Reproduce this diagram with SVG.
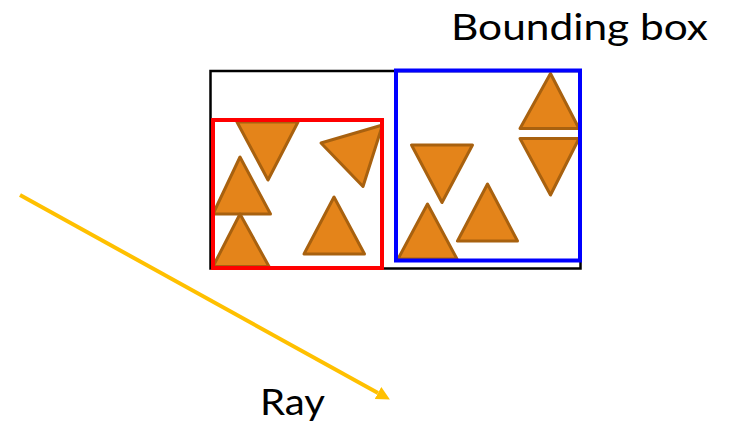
<svg xmlns="http://www.w3.org/2000/svg" width="729" height="424" viewBox="0 0 729 424">
<style>
.tri{fill:#E4841A;stroke:#A8610F;stroke-width:3;stroke-linejoin:round}
.box{fill:none}
.lbl{font-family:Lato,"Open Sans","Liberation Sans",sans-serif;font-size:37px;fill:#000}
</style>
<defs>
<marker id="ah" viewBox="0 0 10 10" refX="0" refY="5" markerWidth="3.4" markerHeight="3.6" orient="auto" markerUnits="strokeWidth">
<path d="M0,0 L10,5 L0,10 z" fill="#FFC000"/>
</marker>
</defs>
<g id="bounding-box">
<rect class="box" x="210.5" y="71" width="370" height="197.5" stroke="#000" stroke-width="2.5"/>
</g>
<g id="triangles">
<polygon class="tri" points="237,122 298,122 268,180"/>
<polygon class="tri" points="321,143 382.5,125 363,186.5"/>
<polygon class="tri" points="240,157 213,214 270.5,214"/>
<polygon class="tri" points="240,214 213,266.5 269,266.5"/>
<polygon class="tri" points="334,197 304,254 364.5,254"/>
<polygon class="tri" points="550.5,73.5 520,128.5 579,128.5"/>
<polygon class="tri" points="520,138.5 579,138.5 550.5,195"/>
<polygon class="tri" points="411.5,145 472.5,145 442,202.5"/>
<polygon class="tri" points="487.5,184 457.5,241 517.5,241"/>
<polygon class="tri" points="427.5,204 398,259 457,259"/>
</g>
<g id="red-box">
<rect class="box" x="213" y="120" width="169" height="148" stroke="#FF0000" stroke-width="4"/>
</g>
<g id="blue-box">
<rect class="box" x="396" y="70.5" width="184" height="190" stroke="#0000FF" stroke-width="4"/>
</g>
<g id="connectors">
<line x1="20" y1="195" x2="378" y2="393" stroke="#FFC000" stroke-width="4" marker-end="url(#ah)"/>
</g>
<g id="labels">
<text class="lbl" x="451" y="40" textLength="257" lengthAdjust="spacingAndGlyphs">Bounding box</text>
<text class="lbl" x="260" y="415" textLength="65" lengthAdjust="spacingAndGlyphs">Ray</text>
</g>
</svg>
